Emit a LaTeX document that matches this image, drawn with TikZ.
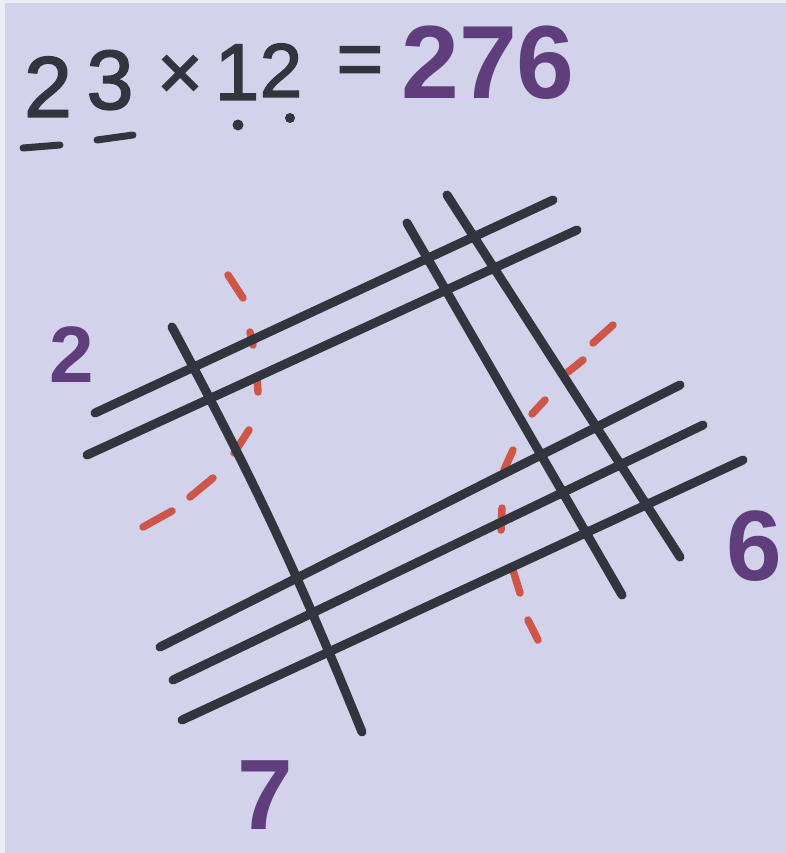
\documentclass[tikz,border=0pt]{standalone}
\usepackage{fontspec}
\setmainfont{Liberation Sans}
\newfontfamily\penfont[FakeBold=2]{Liberation Sans}
\usetikzlibrary{intersections}
\definecolor{bg}{RGB}{210,210,234}
\definecolor{ink}{RGB}{50,52,62}
\definecolor{purp}{RGB}{96,62,125}
\definecolor{redd}{RGB}{206,86,72}
\tikzset{
  pen/.style={line width=9pt, line cap=round, draw=ink},
  redpen/.style={line width=7.5pt, line cap=round, draw=redd},
  blk/.style={inner sep=0pt, text=ink},
  pur/.style={inner sep=0pt, text=purp, font=\bfseries\fontsize{100}{100}\selectfont},
}
\newcommand\crossdot[2]{\path[name intersections={of=#1 and #2, by=X#1#2}];
  \fill[ink] (X#1#2) circle (6.5);}
\begin{document}
\begin{tikzpicture}[x=1pt,y=-1pt]
\useasboundingbox (0,0) rectangle (786,853);
\fill[bg] (0,0) rectangle (786,853);
\fill[white!60!bg] (0,0) rectangle (5,853);
\fill[white!60!bg] (0,0) rectangle (786,3);

% title
\node[blk, anchor=south, font=\penfont\fontsize{86}{86}\selectfont] (t2) at (48,117) {2};
\node[blk, anchor=south, font=\penfont\fontsize{84}{84}\selectfont] (t3) at (110,110) {3};
\node[blk, anchor=base, font=\penfont\fontsize{78}{78}\selectfont] (tx) at (180,99) {×};
\node[blk, anchor=south, font=\penfont\fontsize{80}{80}\selectfont] (t1) at (237,100) {1};
\node[blk, anchor=south, font=\penfont\fontsize{76}{76}\selectfont] (t4) at (281,97) {2};
\node[blk, anchor=base, font=\penfont\fontsize{80}{80}\selectfont] (teq) at (360,86) {=};
\node[pur, anchor=south, font=\bfseries\fontsize{104}{104}\selectfont] (res) at (488,100) {276};
\draw[pen, line width=7pt] (23,148) -- (60,145);
\draw[pen, line width=7pt] (97,140) -- (133,135);
\fill[ink] (238,125) circle (5.5);
\fill[ink] (290,118) circle (5);

% labels
\node[pur, anchor=south, font=\bfseries\fontsize{80}{80}\selectfont] (lab2) at (72,383) {2};
\node[pur, anchor=south] (lab6) at (754,582) {6};
\node[pur, anchor=south] (lab7) at (265,830) {7};

% red separators
\draw[redpen] (228,275) -- (243,298);
\draw[redpen] (250,332) -- (253,345);
\draw[redpen] (257,376) -- (258,392);
\draw[redpen] (249,430) -- (234,453);
\draw[redpen] (213,478) -- (190,497);
\draw[redpen] (172,511) -- (143,527);
\draw[redpen] (613,325) -- (593,343);
\draw[redpen] (583,360) -- (568,372);
\draw[redpen] (545,400) -- (532,414);
\draw[redpen] (513,450) -- (504,470);
\draw[redpen] (502,508) -- (501,530);
\draw[redpen] (512,567) -- (520,593);
\draw[redpen] (528,620) -- (538,640);

% line end points
\coordinate (A1s) at (95,413);  \coordinate (A1e) at (553,200);
\coordinate (A2s) at (87,455);  \coordinate (A2e) at (577,230);
\coordinate (B1s) at (160,647); \coordinate (B1e) at (680,385);
\coordinate (B2s) at (173,680); \coordinate (B2e) at (703,425);
\coordinate (B3s) at (182,720); \coordinate (B3e) at (743,460);
\coordinate (L1s) at (172,327); \coordinate (L1e) at (362,732);
\coordinate (R1s) at (407,223); \coordinate (R1e) at (622,595);
\coordinate (R2s) at (447,195); \coordinate (R2e) at (680,557);

\draw[pen, name path=A1] (A1s) -- (A1e);
\draw[pen, name path=A2] (A2s) -- (A2e);
\draw[pen, name path=B1] (B1s) -- (B1e);
\draw[pen, name path=B2] (B2s) -- (B2e);
\draw[pen, name path=B3] (B3s) -- (B3e);
\draw[pen, name path=L1] (L1s) to[bend left=3] (L1e);
\draw[pen, name path=R1] (R1s) -- (R1e);
\draw[pen, name path=R2] (R2s) -- (R2e);

\crossdot{L1}{A1}\crossdot{L1}{A2}\crossdot{L1}{B1}\crossdot{L1}{B2}\crossdot{L1}{B3}
\crossdot{R1}{A1}\crossdot{R1}{A2}\crossdot{R1}{B1}\crossdot{R1}{B2}\crossdot{R1}{B3}
\crossdot{R2}{A1}\crossdot{R2}{A2}\crossdot{R2}{B1}\crossdot{R2}{B2}\crossdot{R2}{B3}
\end{tikzpicture}
\end{document}
